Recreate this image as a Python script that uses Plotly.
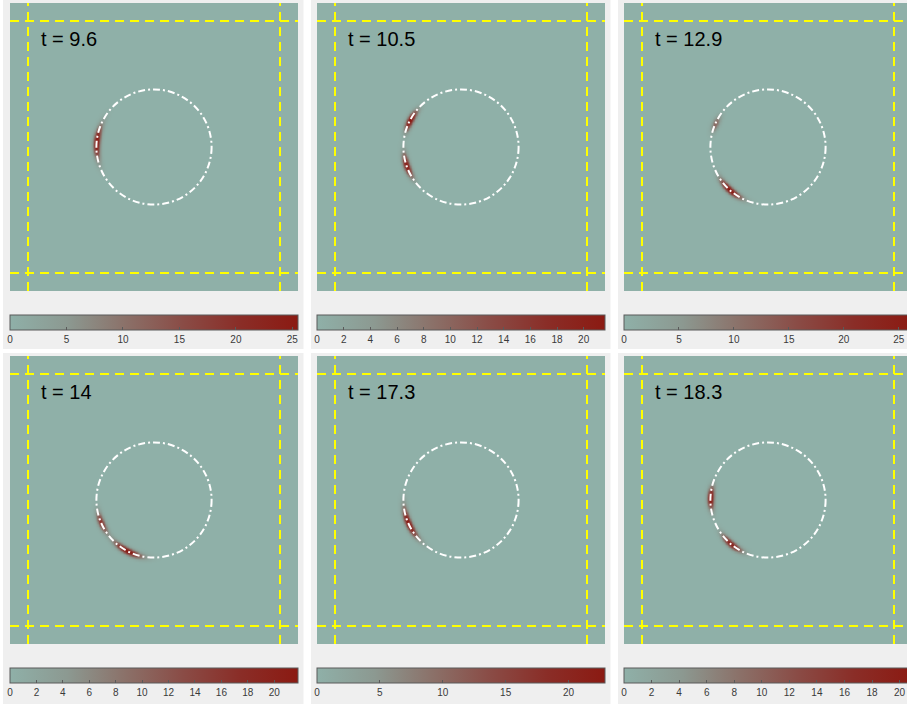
import numpy as np
import plotly.graph_objects as go

# ---- data -------------------------------------------------------------
times = ["9.6", "10.5", "12.9", "14", "17.3", "18.3"]
z_max = [25.5, 21.6, 26.2, 21.8, 22.9, 20.9]
tick_step = [5, 2, 5, 2, 5, 2]
# hot spots along the ring: centre angle (deg), angular spread (deg), relative strength
spot_angle = [[175], [152, 199], [156, 228], [203, 242], [204], [178, 230]]
spot_width = [[12], [8, 9], [6, 10], [8, 11], [12], [8, 9]]
spot_level = [[1.0], [1.0, 0.95], [0.45, 1.0], [0.75, 1.0], [1.0], [1.0, 0.9]]

ring_radius = 3.2
ring_thickness = 0.13
box_half = 7.0
domain_half = 8.0

# ---- page geometry (pixels) ------------------------------------------
W, H = 907, 704
col_left = [10, 317, 624]
row_top = [3, 356]
panel = 288
cbar_offset = 312

zero_color = "#8fb0a8"
colorscale = [
    [0.0, zero_color],
    [0.2, "#8c9991"],
    [0.4, "#8b7169"],
    [0.6, "#8a4c46"],
    [0.8, "#8a2d27"],
    [1.0, "#8b1a12"],
]
font_family = "Liberation Sans, Arial, sans-serif"

# field is only non-zero near the ring, so the grid covers that box
g = np.linspace(-4.0, 4.0, 241)
gx, gy = np.meshgrid(g, g)
gr = np.hypot(gx, gy)
gth = np.degrees(np.arctan2(gy, gx)) % 360.0
radial = np.exp(-0.5 * ((gr - ring_radius) / ring_thickness) ** 2)

fig = go.Figure()
shapes = []
annotations = []

for i in range(6):
    row, col = divmod(i, 3)
    left, top = col_left[col], row_top[row]
    right = min(left + panel, W)
    px = 2 * domain_half / panel
    xr = [-domain_half, -domain_half + (right - left) * px]

    ang = np.zeros_like(gx)
    for a, w, lv in zip(spot_angle[i], spot_width[i], spot_level[i]):
        d = (gth - a + 180.0) % 360.0 - 180.0
        ang += lv * np.exp(-0.5 * (d / w) ** 2)
    z = np.clip(z_max[i] * ang * radial, 0, z_max[i])
    z = np.round(z, 2)

    ax = "" if i == 0 else str(i + 1)
    fig.add_trace(go.Heatmap(
        x=g, y=g, z=z,
        zmin=0, zmax=z_max[i],
        colorscale=colorscale,
        zsmooth="best",
        xaxis="x" + ax, yaxis="y" + ax,
        hoverinfo="skip",
        colorbar=dict(
            orientation="h",
            x=left / W, xanchor="left",
            y=1 - (top + cbar_offset) / H, yanchor="top",
            len=panel, lenmode="pixels",
            thickness=15, thicknessmode="pixels",
            xpad=0, ypad=0,
            outlinecolor="#5a5a5a", outlinewidth=1,
            ticks="inside", ticklen=3, tickcolor="#5a5a5a",
            tick0=0, dtick=tick_step[i],
            tickfont=dict(size=10, color="#3a3a3a", family=font_family),
        ),
    ))

    fig.update_layout(**{
        "xaxis" + ax: dict(domain=[left / W, right / W], range=xr, visible=False,
                           anchor="y" + ax),
        "yaxis" + ax: dict(domain=[1 - (top + panel) / H, 1 - top / H],
                           range=[-domain_half, domain_half], visible=False,
                           anchor="x" + ax),
    })

    xref, yref = "x" + ax, "y" + ax
    for v in (-box_half, box_half):
        shapes.append(dict(type="line", xref=xref, yref=yref,
                           x0=-domain_half, x1=domain_half, y0=v, y1=v,
                           line=dict(color="#ffff00", width=2, dash="9px,6px")))
        shapes.append(dict(type="line", xref=xref, yref=yref,
                           x0=v, x1=v, y0=-domain_half, y1=domain_half,
                           line=dict(color="#ffff00", width=2, dash="9px,6px")))
    shapes.append(dict(type="circle", xref=xref, yref=yref,
                       x0=-ring_radius, x1=ring_radius,
                       y0=-ring_radius, y1=ring_radius,
                       line=dict(color="#ffffff", width=2, dash="7px,3px,2px,3px")))
    annotations.append(dict(xref=xref, yref=yref, x=-6.4, y=6.0,
                            text="t = " + times[i], showarrow=False,
                            xanchor="left", yanchor="middle",
                            font=dict(size=20, color="#000000", family=font_family)))

# white gutters between the grey panel cards
for x0, x1 in ((0, 3), (303.5, 311), (610.5, 618)):
    shapes.append(dict(type="rect", xref="paper", yref="paper",
                       x0=x0 / W, x1=x1 / W, y0=0, y1=1,
                       line=dict(width=0), fillcolor="#ffffff", layer="below"))
shapes.append(dict(type="rect", xref="paper", yref="paper",
                   x0=0, x1=1, y0=1 - 353 / H, y1=1 - 349 / H,
                   line=dict(width=0), fillcolor="#ffffff", layer="below"))

fig.update_layout(
    width=W, height=H,
    margin=dict(l=0, r=0, t=0, b=0, autoexpand=False),
    paper_bgcolor="#efefef",
    plot_bgcolor=zero_color,
    showlegend=False,
    shapes=shapes,
    annotations=annotations,
    font=dict(family=font_family),
)

fig.write_html("out.html")
